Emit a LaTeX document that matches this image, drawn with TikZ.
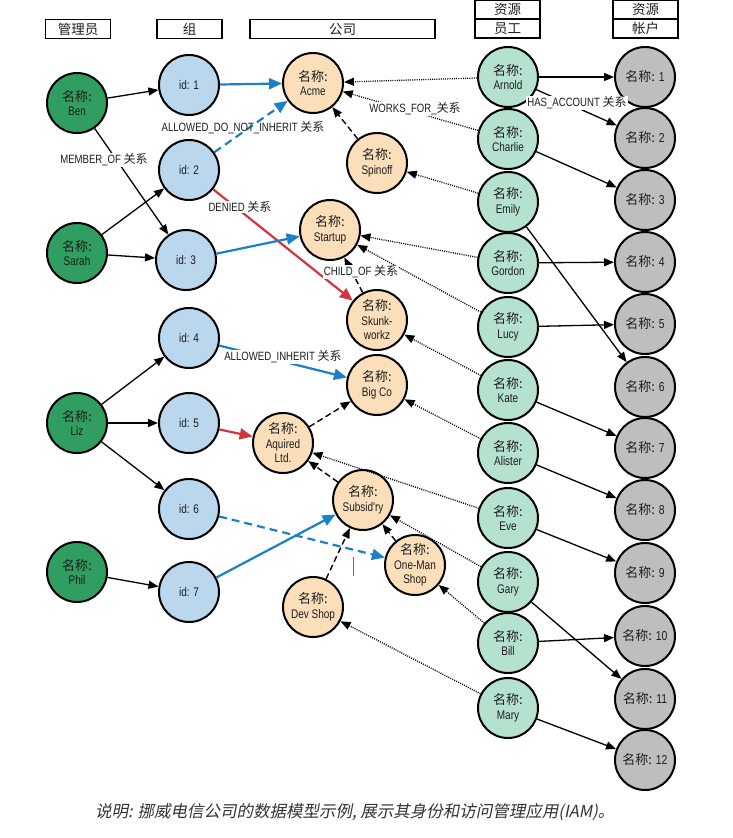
\documentclass[tikz,border=0pt]{standalone}
\usepackage{fontspec}
\setmainfont{Noto Sans CJK SC}
\newfontfamily\cjkf{Noto Sans CJK SC}
\newfontfamily\cond{Liberation Sans}[FakeStretch=0.8]
\newfontfamily\capfont{Noto Sans CJK SC}[FakeSlant=0.2]
\usetikzlibrary{arrows.meta}
\definecolor{admc}{RGB}{47,158,96}
\definecolor{grpc}{RGB}{186,215,238}
\definecolor{comc}{RGB}{251,222,186}
\definecolor{empc}{RGB}{180,226,206}
\definecolor{accc}{RGB}{190,190,190}
\definecolor{blu}{RGB}{28,128,200}
\definecolor{rd}{RGB}{212,52,64}
\definecolor{txt}{RGB}{30,30,30}
\tikzset{
  nd/.style={circle, draw=black, line width=2pt, minimum size=60pt, inner sep=0pt, align=center, text=txt, font=\cond\fontsize{12.5}{14.5}\selectfont},
  adm/.style={nd, fill=admc},
  grp/.style={nd, fill=grpc, font=\cond\fontsize{12.5}{14}\selectfont},
  com/.style={nd, fill=comc},
  emp/.style={nd, fill=empc},
  acc/.style={nd, fill=accc, font=\cond\fontsize{13}{14}\selectfont},
  hdr/.style={draw=black, line width=1.3pt, minimum width=65pt, minimum height=19pt, inner sep=0pt, font=\cjkf\fontsize{13.5}{14}\selectfont, text=txt},
  lbl/.style={fill=white, inner sep=1pt, text=txt, font=\cond\fontsize{12}{13}\selectfont},
  smtip/.style={-{Triangle[length=10pt,width=8pt]}},
  bgtip/.style={-{Triangle[length=13pt,width=11pt]}},
  mem/.style={smtip, line width=1.3pt, black},
  has/.style={smtip, line width=1.3pt, black},
  child/.style={smtip, line width=1.4pt, black, dash pattern=on 6pt off 3.5pt},
  works/.style={smtip, line width=1.3pt, black, dash pattern=on 1pt off 1.2pt},
  perm/.style={bgtip, line width=2.2pt, blu},
  permd/.style={bgtip, line width=2.2pt, blu, dash pattern=on 8pt off 5pt},
  deny/.style={bgtip, line width=2.2pt, rd},
}
\newcommand{\nmc}{{\cjkf\fontsize{13}{14}\selectfont 名称:}}
\begin{document}
\begin{tikzpicture}[x=1pt,y=-1pt]
\useasboundingbox (0,0) rectangle (733,838);
% headers
\node[hdr] (h1) at (78,29) {管理员};
\node[hdr] (h2) at (189.5,29) {组};
\node[hdr, minimum width=185pt] (h3) at (342.5,29) {公司};
\node[hdr] (h4a) at (507.5,9.5) {资源};
\node[hdr] (h4b) at (507.5,28.5) {员工};
\node[hdr] (h5a) at (645.5,9.5) {资源};
\node[hdr] (h5b) at (645.5,28.5) {帐户};
% admins
\node[adm] (ben) at (77,103) {\nmc\\Ben};
\node[adm] (sarah) at (77,253) {\nmc\\Sarah};
\node[adm] (liz) at (77,423) {\nmc\\Liz};
\node[adm] (phil) at (77,572) {\nmc\\Phil};
% groups
\node[grp] (g1) at (189,85) {id: 1};
\node[grp] (g2) at (189,170) {id: 2};
\node[grp] (g3) at (186,260) {id: 3};
\node[grp] (g4) at (189,338) {id: 4};
\node[grp] (g5) at (189,423) {id: 5};
\node[grp] (g6) at (189,509) {id: 6};
\node[grp] (g7) at (189,592) {id: 7};
% companies
\node[com] (acme) at (313,83) {\nmc\\Acme};
\node[com] (spinoff) at (377,163) {\nmc\\Spinoff};
\node[com] (startup) at (330,230) {\nmc\\Startup};
\node[com] (skunk) at (377,320) {\nmc\\Skunk-\\workz};
\node[com] (bigco) at (377,385) {\nmc\\Big Co};
\node[com] (aquired) at (283,443) {\nmc\\Aquired\\Ltd.};
\node[com] (subsid) at (363,500) {\nmc\\Subsid'ry};
\node[com] (oneman) at (415,565) {\nmc\\One-Man\\Shop};
\node[com] (devshop) at (313,607) {\nmc\\Dev Shop};
% employees
\node[emp] (arnold) at (508,77) {\nmc\\Arnold};
\node[emp] (charlie) at (508,139) {\nmc\\Charlie};
\node[emp] (emily) at (508,202) {\nmc\\Emily};
\node[emp] (gordon) at (508,263) {\nmc\\Gordon};
\node[emp] (lucy) at (508,327) {\nmc\\Lucy};
\node[emp] (kate) at (508,390) {\nmc\\Kate};
\node[emp] (alister) at (508,453) {\nmc\\Alister};
\node[emp] (eve) at (508,518) {\nmc\\Eve};
\node[emp] (gary) at (508,582) {\nmc\\Gary};
\node[emp] (bill) at (508,643) {\nmc\\Bill};
\node[emp] (mary) at (508,708) {\nmc\\Mary};
% accounts
\node[acc] (a1) at (645,77) {\nmc{} 1};
\node[acc] (a2) at (645,138) {\nmc{} 2};
\node[acc] (a3) at (645,200) {\nmc{} 3};
\node[acc] (a4) at (645,262) {\nmc{} 4};
\node[acc] (a5) at (645,324) {\nmc{} 5};
\node[acc] (a6) at (645,387) {\nmc{} 6};
\node[acc] (a7) at (645,448) {\nmc{} 7};
\node[acc] (a8) at (645,510) {\nmc{} 8};
\node[acc] (a9) at (645,573) {\nmc{} 9};
\node[acc] (a10) at (645,636) {\nmc{} 10};
\node[acc] (a11) at (645,699) {\nmc{} 11};
\node[acc] (a12) at (645,760) {\nmc{} 12};
% member_of
\draw[mem] (ben) -- (g1);
\draw[mem] (ben) -- (g3);
\draw[mem] (sarah) -- (g2);
\draw[mem] (sarah) -- (g3);
\draw[mem] (liz) -- (g4);
\draw[mem] (liz) -- (g5);
\draw[mem] (liz) -- (g6);
\draw[mem] (phil) -- (g7);
% permissions
\draw[perm] (g1) -- (acme);
\draw[permd] (g2) -- (acme);
\draw[deny] (g2) -- (skunk);
\draw[perm] (g3) -- (startup);
\draw[perm] (g4) -- (bigco);
\draw[deny] (g5) -- (aquired);
\draw[permd] (g6) -- (oneman);
\draw[perm] (g7) -- (subsid);
% child_of
\draw[child] (spinoff) -- (acme);
\draw[child] (skunk) -- (startup);
\draw[child] (aquired) -- (bigco);
\draw[child] (subsid) -- (aquired);
\draw[child] (oneman) -- (subsid);
\draw[child] (devshop) -- (subsid);
% works_for
\draw[works] (arnold) -- (acme);
\draw[works] (charlie) -- (acme);
\draw[works] (emily) -- (spinoff);
\draw[works] (gordon) -- (startup);
\draw[works] (lucy) -- (startup);
\draw[works] (kate) -- (skunk);
\draw[works] (alister) -- (bigco);
\draw[works] (eve) -- (aquired);
\draw[works] (gary) -- (subsid);
\draw[works] (bill) -- (oneman);
\draw[works] (mary) -- (devshop);
% has_account
\draw[has] (arnold) -- (a1);
\draw[has] (arnold) -- (a2);
\draw[has] (charlie) -- (a3);
\draw[has] (gordon) -- (a4);
\draw[has] (lucy) -- (a5);
\draw[has] (emily) -- (a6);
\draw[has] (kate) -- (a7);
\draw[has] (alister) -- (a8);
\draw[has] (eve) -- (a9);
\draw[has] (bill) -- (a10);
\draw[has] (gary) -- (a11);
\draw[has] (mary) -- (a12);
% labels
\node[lbl] (lmem) at (104,160) {MEMBER\_OF {\cjkf 关系}};
\node[lbl, fill=none] (ladni) at (243,128) {ALLOWED\_DO\_NOT\_INHERIT {\cjkf 关系}};
\node[lbl] (lden) at (240,207) {DENIED {\cjkf 关系}};
\node[lbl] (lchild) at (361,272) {CHILD\_OF {\cjkf 关系}};
\node[lbl] (lwork) at (415,109) {WORKS\_FOR\_{\cjkf 关系}};
\node[lbl] (lhas) at (577,103) {HAS\_ACCOUNT {\cjkf 关系}};
\node[lbl] (lai) at (283,357) {ALLOWED\_INHERIT {\cjkf 关系}};
% stray mark
\draw[black!60, line width=0.8pt] (353,557) -- (353,576);
% caption
\node[anchor=west, inner sep=0pt, text={rgb,255:red,50;green,50;blue,50}, font=\capfont\fontsize{16.5}{18}\selectfont] (cap) at (95,812) {说明: 挪威电信公司的数据模型示例, 展示其身份和访问管理应用(IAM)。};
\end{tikzpicture}
\end{document}
